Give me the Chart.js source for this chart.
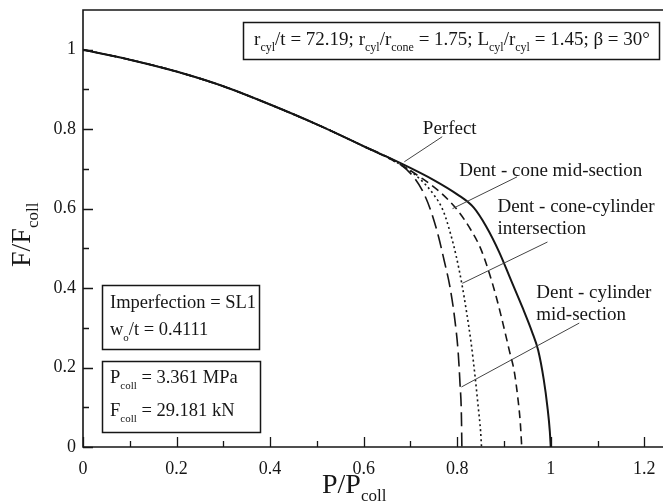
<!DOCTYPE html>
<html>
<head>
<meta charset="utf-8">
<script src="https://cdn.jsdelivr.net/npm/chart.js@4.4.1/dist/chart.umd.min.js"></script>
<style>
  html, body { margin: 0; padding: 0; background: #fff; }
  #wrap { width: 663px; height: 501px; position: relative; }
</style>
</head>
<body>
<div id="wrap"><canvas id="chart"></canvas></div>
<script>
// Load–pressure interaction curves (P/Pcoll vs F/Fcoll)
const perfectP = [0, 0.1, 0.2, 0.3, 0.4, 0.5, 0.6, 0.68, 0.75, 0.8, 0.835, 0.862, 0.89, 0.915, 0.94, 0.96, 0.973, 0.985, 0.993, 0.998, 1.0];
const perfectF = [1, 0.975, 0.945, 0.908, 0.862, 0.812, 0.757, 0.714, 0.672, 0.636, 0.603, 0.555, 0.49, 0.42, 0.35, 0.29, 0.244, 0.17, 0.1, 0.04, 0];

const coneMidP = [0, 0.1, 0.2, 0.3, 0.4, 0.5, 0.6, 0.68, 0.72, 0.76, 0.8, 0.83, 0.85, 0.868, 0.883, 0.898, 0.912, 0.922, 0.93, 0.935, 0.938];
const coneMidF = [1, 0.975, 0.945, 0.908, 0.862, 0.812, 0.757, 0.71, 0.68, 0.645, 0.597, 0.545, 0.5, 0.44, 0.38, 0.31, 0.24, 0.19, 0.12, 0.06, 0];

const coneCylP = [0, 0.1, 0.2, 0.3, 0.4, 0.5, 0.6, 0.68, 0.72, 0.75, 0.77, 0.785, 0.798, 0.81, 0.82, 0.83, 0.838, 0.845, 0.85, 0.852];
const coneCylF = [1, 0.975, 0.945, 0.908, 0.862, 0.812, 0.757, 0.71, 0.675, 0.635, 0.595, 0.54, 0.48, 0.41, 0.34, 0.26, 0.18, 0.1, 0.04, 0];

const cylMidP = [0, 0.1, 0.2, 0.3, 0.4, 0.5, 0.6, 0.68, 0.71, 0.73, 0.745, 0.76, 0.772, 0.785, 0.795, 0.802, 0.806, 0.809, 0.81];
const cylMidF = [1, 0.975, 0.945, 0.908, 0.862, 0.812, 0.757, 0.71, 0.675, 0.635, 0.59, 0.53, 0.47, 0.4, 0.32, 0.24, 0.16, 0.08, 0];

const xTickLabels = ['0', '0.2', '0.4', '0.6', '0.8', '1', '1.2'];
const yTickLabels = ['0', '0.2', '0.4', '0.6', '0.8', '1'];

const FONT = '"Liberation Serif", "DejaVu Serif", serif';
const INK = '#161616';

function pts(xs, ys) {
  return xs.map((v, i) => ({ x: v, y: ys[i] }));
}

// label for a major tick (every 0.2), blank for the rest
function majorLabel(v, labels) {
  const k = Math.round(v * 10);
  if (Math.abs(v * 10 - k) > 1e-6 || k % 2) return '';
  return labels[k / 2] || '';
}

// text with subscripts: parts = [[text, isSub], ...]
function richWidth(ctx, parts, size) {
  let w = 0;
  for (const [t, sub] of parts) {
    ctx.font = (sub ? Math.round(size * 0.62) : size) + 'px ' + FONT;
    w += ctx.measureText(t).width;
  }
  return w;
}
function drawRich(ctx, x, y, parts, size, align) {
  let cx = x;
  const w = richWidth(ctx, parts, size);
  if (align === 'center') cx = x - w / 2;
  if (align === 'right') cx = x - w;
  ctx.textAlign = 'left';
  ctx.textBaseline = 'alphabetic';
  for (const [t, sub] of parts) {
    ctx.font = (sub ? Math.round(size * 0.62) : size) + 'px ' + FONT;
    ctx.fillText(t, cx, sub ? y + size * 0.3 : y);
    cx += ctx.measureText(t).width;
  }
}

// curve labels and their leader lines, in data units
const notes = [
  { lines: ['Perfect'], at: [0.784, 0.80], align: 'center', from: [0.768, 0.781], to: [0.687, 0.718] },
  { lines: ['Dent - cone mid-section'], at: [1.0, 0.695], align: 'center', from: [0.928, 0.68], to: [0.79, 0.6] },
  { lines: ['Dent - cone-cylinder', 'intersection'], at: [0.886, 0.605], align: 'left', from: [0.993, 0.516], to: [0.811, 0.412] },
  { lines: ['Dent - cylinder', 'mid-section'], at: [0.969, 0.387], align: 'left', from: [1.061, 0.312], to: [0.809, 0.151] }
];

const paramText = [['r', 0], ['cyl', 1], ['/t = 72.19; r', 0], ['cyl', 1], ['/r', 0], ['cone', 1], [' = 1.75; L', 0], ['cyl', 1], ['/r', 0], ['cyl', 1], [' = 1.45; β = 30°', 0]];
const imperfText = [[['Imperfection = SL1', 0]], [['w', 0], ['o', 1], ['/t = 0.4111', 0]]];
const collText = [[['P', 0], ['coll', 1], [' = 3.361 MPa', 0]], [['F', 0], ['coll', 1], [' = 29.181 kN', 0]]];

const overlay = {
  id: 'overlay',
  afterDraw(chart) {
    const { ctx, chartArea: a, scales: { x, y } } = chart;
    ctx.save();
    ctx.strokeStyle = INK;
    ctx.fillStyle = INK;

    // frame (left, top, bottom)
    ctx.lineWidth = 1.6;
    ctx.beginPath();
    ctx.moveTo(a.right + 2, a.top);
    ctx.lineTo(a.left, a.top);
    ctx.lineTo(a.left, a.bottom);
    ctx.lineTo(a.right + 2, a.bottom);
    ctx.stroke();

    // inward ticks
    ctx.lineWidth = 1.3;
    ctx.beginPath();
    for (let i = 0; i <= 12; i++) {
      const px = Math.round(x.getPixelForValue(i / 10)) + 0.5;
      const len = i % 2 ? 6 : 10;
      ctx.moveTo(px, a.bottom);
      ctx.lineTo(px, a.bottom - len);
    }
    for (let i = 0; i <= 10; i++) {
      const py = Math.round(y.getPixelForValue(i / 10)) + 0.5;
      const len = i % 2 ? 6 : 10;
      ctx.moveTo(a.left, py);
      ctx.lineTo(a.left + len, py);
    }
    ctx.stroke();

    // axis titles
    drawRich(ctx, 322, 493, [['P/P', 0], ['coll', 1]], 28, 'left');
    ctx.save();
    ctx.translate(30, 267);
    ctx.rotate(-Math.PI / 2);
    drawRich(ctx, 0, 0, [['F/F', 0], ['coll', 1]], 28, 'left');
    ctx.restore();

    // curve labels
    ctx.lineWidth = 1;
    ctx.strokeStyle = '#444';
    for (const n of notes) {
      ctx.beginPath();
      ctx.moveTo(x.getPixelForValue(n.from[0]), y.getPixelForValue(n.from[1]));
      ctx.lineTo(x.getPixelForValue(n.to[0]), y.getPixelForValue(n.to[1]));
      ctx.stroke();
      ctx.font = '19px ' + FONT;
      ctx.textAlign = n.align;
      ctx.textBaseline = 'middle';
      n.lines.forEach((t, k) => {
        ctx.fillText(t, x.getPixelForValue(n.at[0]), y.getPixelForValue(n.at[1]) + k * 22);
      });
    }

    // parameter box at top
    ctx.strokeStyle = INK;
    ctx.lineWidth = 1.5;
    ctx.strokeRect(243.5, 22.5, 416, 37);
    drawRich(ctx, 452, 45, paramText, 19, 'center');

    // info boxes bottom left
    ctx.strokeRect(102.5, 285.5, 157, 64);
    drawRich(ctx, 110, 308, imperfText[0], 18.5, 'left');
    drawRich(ctx, 110, 335, imperfText[1], 18.5, 'left');
    ctx.strokeRect(102.5, 361.5, 158, 71);
    drawRich(ctx, 110, 383, collText[0], 18.5, 'left');
    drawRich(ctx, 110, 416, collText[1], 18.5, 'left');

    ctx.restore();
  }
};

const tickFont = { family: FONT, size: 18 };

new Chart(document.getElementById('chart'), {
  type: 'scatter',
  data: {
    datasets: [
      { label: 'Perfect', data: pts(perfectP, perfectF), borderWidth: 2, borderDash: [] },
      { label: 'Dent - cone mid-section', data: pts(coneMidP, coneMidF), borderWidth: 1.6, borderDash: [8, 5] },
      { label: 'Dent - cone-cylinder intersection', data: pts(coneCylP, coneCylF), borderWidth: 1.6, borderDash: [2, 3] },
      { label: 'Dent - cylinder mid-section', data: pts(cylMidP, cylMidF), borderWidth: 1.6, borderDash: [14, 6] }
    ].map(d => Object.assign(d, {
      showLine: true,
      borderColor: INK,
      pointRadius: 0,
      cubicInterpolationMode: 'monotone'
    }))
  },
  options: {
    responsive: true,
    maintainAspectRatio: false,
    animation: false,
    layout: { padding: { top: 10, right: 0, left: 0, bottom: 0 } },
    plugins: { legend: { display: false }, tooltip: { enabled: false } },
    scales: {
      x: {
        type: 'linear', min: 0, max: 1.24,
        grid: { display: false, drawTicks: false }, border: { display: false },
        afterFit: s => { s.height = 54; s.paddingLeft = 0; s.paddingRight = 0; },
        ticks: {
          stepSize: 0.2, includeBounds: false, autoSkip: false, maxRotation: 0, padding: 11,
          color: INK, font: tickFont,
          callback: v => majorLabel(v, xTickLabels)
        }
      },
      y: {
        type: 'linear', min: 0, max: 1.1,
        grid: { display: false, drawTicks: false }, border: { display: false },
        afterFit: s => { s.width = 83; s.paddingTop = 0; s.paddingBottom = 0; },
        ticks: {
          stepSize: 0.2, includeBounds: false, autoSkip: false, padding: 7,
          color: INK, font: tickFont,
          callback: v => majorLabel(v, yTickLabels)
        }
      }
    }
  },
  plugins: [overlay]
});
</script>
</body>
</html>
